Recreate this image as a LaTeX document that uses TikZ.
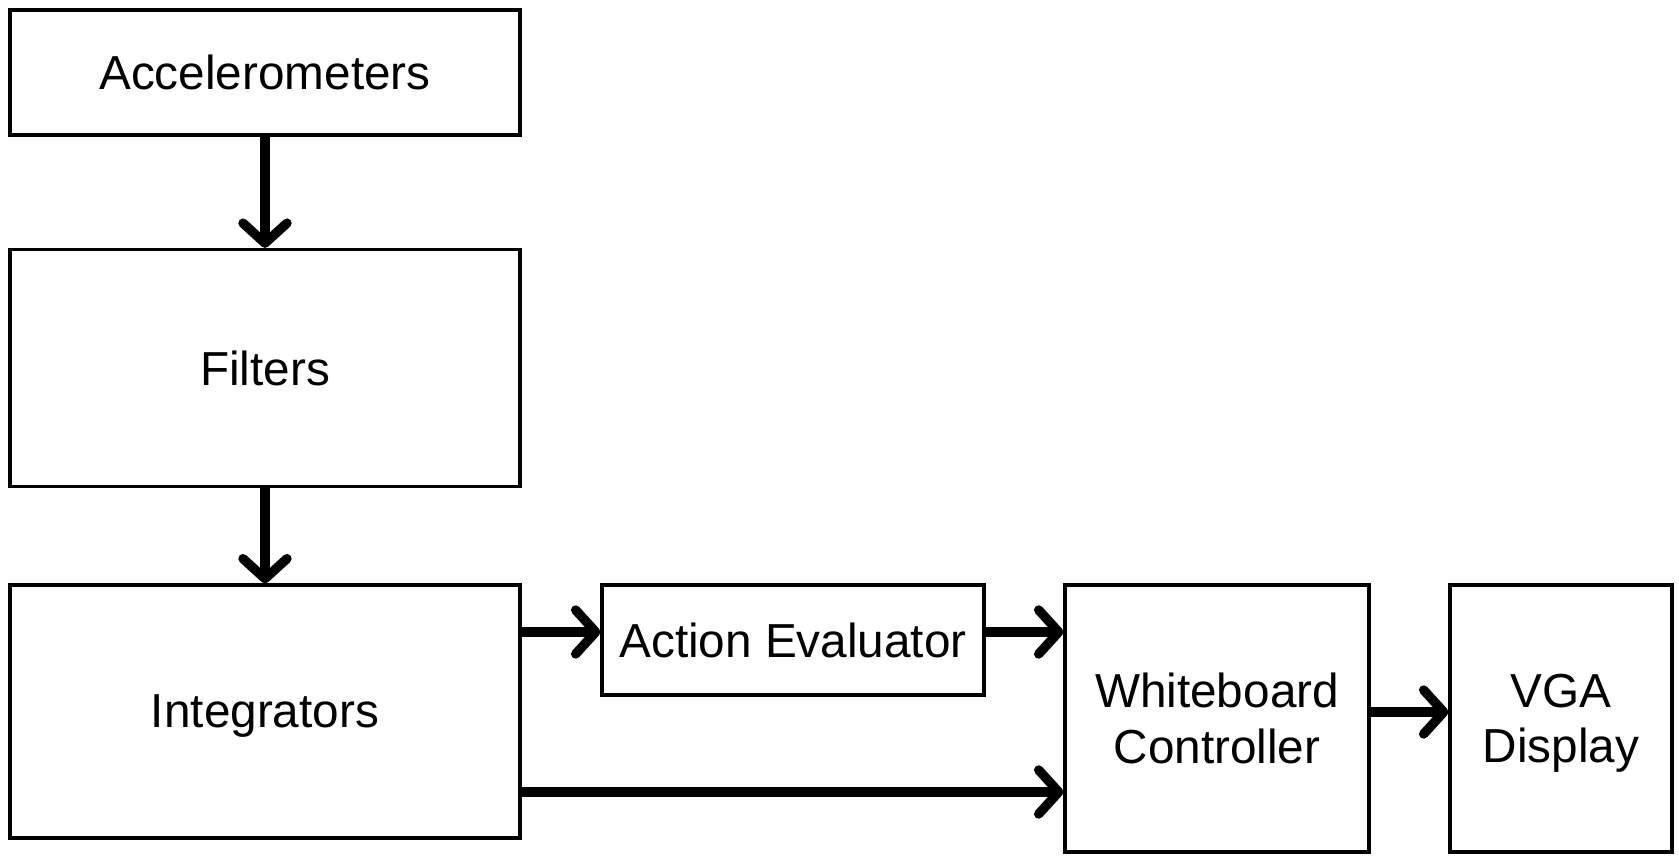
\documentclass[tikz,border=0pt]{standalone}
\usepackage{fontspec}
\setmainfont{Liberation Sans}
\usetikzlibrary{arrows.meta}

\begin{document}
\begin{tikzpicture}[x=0.5pt,y=-0.5pt]
    \tikzstyle{block}=[draw, line width=1.65pt, inner sep=0pt, align=center,
        text depth=0pt, font=\fontsize{23.85}{27.8}\selectfont]
    \tikzstyle{flow}=[line width=4.7pt,
        -{Straight Barb[length=10pt,width=22pt,round]}]
    \useasboundingbox (0,0) rectangle (1679,856);
    \node[block, minimum width=255pt, minimum height=62.5pt] (acc) at (265,72.5) {Accelerometers};
    \node[block, minimum width=255pt, minimum height=118.5pt] (fil) at (265,368) {Filters};
    \node[block, minimum width=255pt, minimum height=126.5pt] (int) at (265,711.5) {Integrators};
    \node[block, minimum width=191pt, minimum height=55pt] (eval) at (793,640) {Action Evaluator};
    \node[block, minimum width=152pt, minimum height=133.5pt] (wbc) at (1217,718.5) {Whiteboard\\Controller};
    \node[block, minimum width=111pt, minimum height=133.5pt] (vga) at (1561,718.5) {VGA\\Display};
    % connectors
    \coordinate (upper) at (0,632);
    \coordinate (lower) at (0,792);
    \coordinate (side) at (0,712);
    \draw[flow] (acc) -- (fil);
    \draw[flow] (fil) -- (int);
    \draw[flow] (int.east |- upper) -- (eval.west |- upper);
    \draw[flow] (eval.east |- upper) -- (wbc.west |- upper);
    \draw[flow] (int.east |- lower) -- (wbc.west |- lower);
    \draw[flow] (wbc.east |- side) -- (vga.west |- side);
\end{tikzpicture}
\end{document}
